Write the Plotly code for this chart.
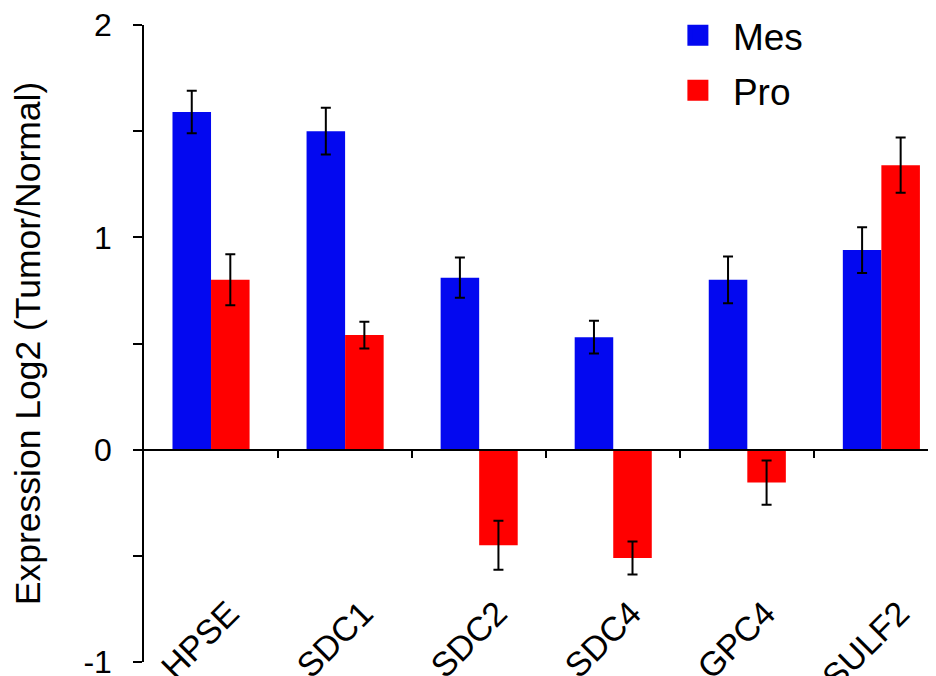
import plotly.graph_objects as go

categories = ["HPSE", "SDC1", "SDC2", "SDC4", "GPC4", "SULF2"]
mes_values = [1.59, 1.50, 0.81, 0.53, 0.80, 0.94]
mes_errors = [0.10, 0.11, 0.095, 0.077, 0.11, 0.108]
pro_values = [0.80, 0.54, -0.45, -0.51, -0.155, 1.34]
pro_errors = [0.12, 0.063, 0.115, 0.078, 0.104, 0.13]
series_names = ["Mes", "Pro"]
y_tick_values = [-1, 0, 1, 2]
y_tick_labels = ["-1", "0", "1", "2"]
boundary_ticks = [0.5, 1.5, 2.5, 3.5, 4.5]

BLUE = "rgb(3,8,240)"
RED = "rgb(255,0,0)"
FONT = "Liberation Sans, Arial, Helvetica, sans-serif"

fig = go.Figure()
for name, vals, errs, col in [(series_names[0], mes_values, mes_errors, BLUE),
                              (series_names[1], pro_values, pro_errors, RED)]:
    fig.add_trace(go.Bar(
        x=categories, y=vals, name=name, showlegend=False, legendgroup=name,
        marker=dict(color=col, line=dict(width=0)),
        error_y=dict(type="data", array=errs, visible=True,
                     color="black", thickness=2, width=5),
    ))
    # legend-only entries (bigger square swatches)
    fig.add_trace(go.Scatter(
        x=[None], y=[None], xaxis="x2", mode="markers", name=name,
        legendgroup=name,
        marker=dict(symbol="square", size=16, color=col,
                    line=dict(width=5, color=col)),
    ))

# the page body adds an 8px offset, so the figure is 8px smaller than the window
fig.update_layout(
    width=928, height=668,
    margin=dict(l=136, r=1, t=17, b=14, autoexpand=False),
    paper_bgcolor="white", plot_bgcolor="white",
    font=dict(family=FONT, color="black", size=30),
    barmode="group", bargap=0.425, bargroupgap=0,
    showlegend=True,
    legend=dict(x=0.656, y=1.032, xanchor="left", yanchor="top",
                font=dict(size=37, family=FONT), itemwidth=60,
                bgcolor="rgba(0,0,0,0)", tracegroupgap=4),
    xaxis=dict(
        type="category", range=[-0.5, 5.4], automargin=False,
        anchor="free", position=0.12,
        showline=False, showgrid=False, zeroline=False, ticks="",
        tickangle=-45, ticklabelshift=18, ticklabeloverflow="allow",
        tickfont=dict(size=34, family=FONT),
    ),
    xaxis2=dict(
        overlaying="x", range=[-0.5, 5.4], anchor="free", position=1/3,
        automargin=False,
        showline=True, linecolor="black", linewidth=1.5,
        showgrid=False, zeroline=False,
        tickmode="array", tickvals=boundary_ticks, ticks="outside",
        ticklen=8, tickwidth=1.5, tickcolor="black", showticklabels=False,
    ),
    yaxis=dict(
        range=[-1, 2], domain=[0, 1], automargin=False,
        showline=True, linecolor="black", linewidth=1.5,
        showgrid=False, zeroline=False,
        tickmode="array", tickvals=y_tick_values, ticktext=y_tick_labels,
        ticks="outside", ticklen=9, tickwidth=1.5, tickcolor="black",
        minor=dict(dtick=0.5, tick0=0, ticks="outside", ticklen=9,
                   tickwidth=1.5, tickcolor="black", showgrid=False),
        ticklabelstandoff=15, ticklabeloverflow="allow",
        tickfont=dict(size=32, family=FONT),
        title=dict(text="Expression Log2 (Tumor/Normal)",
                   font=dict(size=35.5, family=FONT), standoff=41),
    ),
)

fig.write_html("out.html")
